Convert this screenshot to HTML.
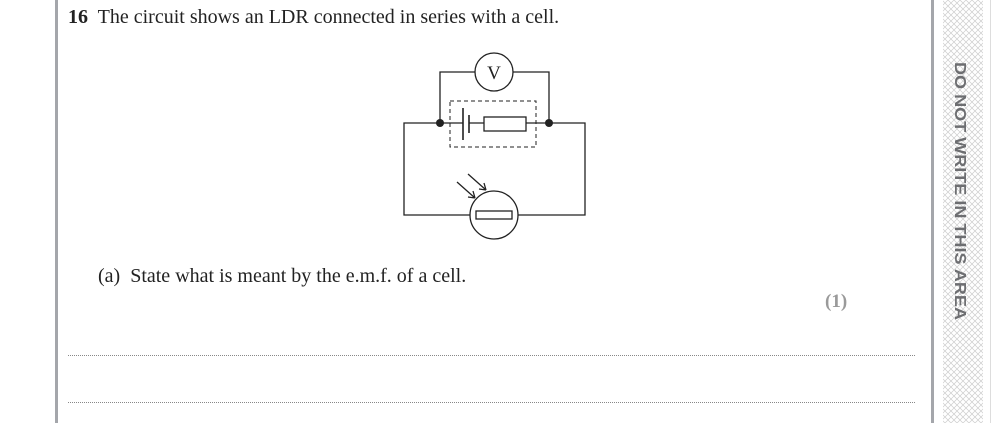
<!DOCTYPE html>
<html><head><meta charset="utf-8"><style>
body{margin:0;width:993px;height:423px;background:#fff;position:relative;overflow:hidden;font-family:"Liberation Serif",serif;color:#222}
.t{position:absolute;white-space:nowrap;font-size:20px}
</style></head><body>
<div style="position:absolute;left:55px;top:0;width:3px;height:423px;background:#a4a6ab"></div>
<div class="t" style="left:68px;top:6px"><b>16</b>&nbsp; The circuit shows an LDR connected in series with a cell.</div>
<div class="t" style="left:98px;top:265px">(a)&nbsp; State what is meant by the e.m.f. of a cell.</div>
<div class="t" style="left:825px;top:291px;color:#9a9a9a;font-weight:bold;font-size:19px">(1)</div>
<div style="position:absolute;left:68px;top:355px;width:847px;border-top:1px dotted #888"></div>
<div style="position:absolute;left:68px;top:402px;width:847px;border-top:1px dotted #888"></div>
<svg style="position:absolute;left:0;top:0" width="993" height="423">
<defs><pattern id="h" width="6" height="6" patternUnits="userSpaceOnUse"><path d="M0 0L6 6M6 0L0 6" stroke="#ccc" stroke-width="0.7"/></pattern></defs>
<rect x="931" y="0" width="3" height="423" fill="#a4a6ab"/>
<rect x="943" y="0" width="40" height="423" fill="url(#h)"/>
<rect x="990" y="0" width="1" height="423" fill="#ddd"/>
<text x="0" y="0" transform="translate(955,62) rotate(90)" font-family="Liberation Sans,sans-serif" font-weight="bold" font-size="15.5" fill="#6d6e71" textLength="258" lengthAdjust="spacingAndGlyphs">DO NOT WRITE IN THIS AREA</text>
<g stroke="#222" stroke-width="1.3" fill="none">
<path d="M463 123H404V215H470M518 215H585V123H526M469 123H484"/>
<path d="M440 123V72H475M513 72H549V123"/>
<circle cx="494" cy="72" r="19" fill="#fff"/>
<rect x="450" y="101" width="86" height="46" stroke-dasharray="4,3" stroke-width="1"/>
<line x1="463" y1="108" x2="463" y2="140" stroke-width="1.6"/>
<line x1="469" y1="115" x2="469" y2="133" stroke-width="1.6"/>
<rect x="484" y="117" width="42" height="14" fill="#fff"/>
<circle cx="494" cy="215" r="24" fill="#fff"/>
<rect x="476" y="211" width="36" height="8"/>
<path d="M457 182L475 198M468 174L486 190M475 198l-7-1M475 198l-2-7M486 190l-7-1M486 190l-2-7"/>
</g>
<circle cx="440" cy="123" r="4" fill="#222"/><circle cx="549" cy="123" r="4" fill="#222"/>
<text x="494" y="79" text-anchor="middle" font-family="Liberation Serif,serif" font-size="19" fill="#222">V</text>
</svg>
</body></html>
